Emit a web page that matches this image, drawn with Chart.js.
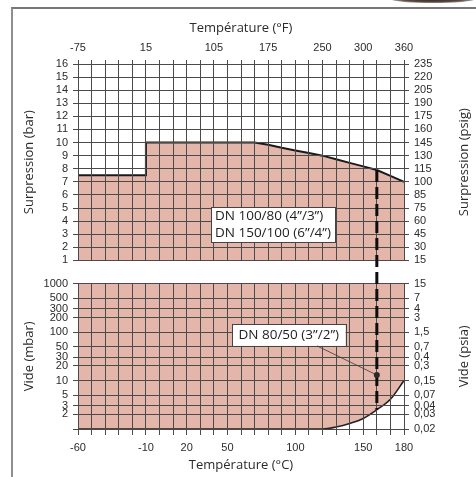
<!DOCTYPE html>
<html lang="fr">
<head>
<meta charset="utf-8">
<title>Surpression / vide selon la température</title>
<script src="https://cdn.jsdelivr.net/npm/chart.js@4.4.1/dist/chart.umd.min.js"></script>
<style>
  html, body { margin: 0; padding: 0; background: #fff; }
  #wrap { position: relative; width: 476px; height: 477px; overflow: hidden; }
  #frame {
    position: absolute; left: 11px; top: 7px; width: 480px; height: 480px;
    border-left: 2px solid #8e8e8e; border-top: 2px solid #777;
  }
  #shade {
    position: absolute; left: 392px; top: -4px; width: 82px; height: 7px; border-radius: 50%;
    background: radial-gradient(ellipse at center, #2f2621 0%, #5b4b42 50%, rgba(255,255,255,0) 100%);
  }
  #pressure { position: absolute; left: 0; top: 0; }
  #vacuum   { position: absolute; left: 0; top: 272px; }
</style>
</head>
<body>
<div id="wrap">
  <div id="frame"></div>
  <div id="shade"></div>
  <canvas id="pressure" width="476" height="272"></canvas>
  <canvas id="vacuum" width="476" height="205"></canvas>
</div>

<script>
/* -------------------------------------------------------
   Data
------------------------------------------------------- */
// pressure limit, upper panel
const TEMP_C       = [-60, -10, -10, 70, 80, 90, 100, 110, 120, 130, 140, 150, 160, 170, 180];
const PRESSURE_BAR = [7.5, 7.5, 10, 10, 9.83, 9.6, 9.4, 9.2, 9.0, 8.72, 8.45, 8.18, 7.9, 7.45, 7.0];

// vacuum limit, lower panel
const VAC_TEMP_C  = [-60, 120, 130, 140, 150, 160, 170, 180];
const VACUUM_MBAR = [1, 1, 1.1, 1.3, 1.65, 2.5, 4.1, 10];

// DN 80/50 limit (dashed line) and its callout point
const LIMIT_TEMP_C = 160;
const LIMIT_BAR    = 7.9;
const LIMIT_MBAR   = 2.5;
const CALLOUT_MBAR = 13;

// axes
const C_LABEL_AT = [-60, -10, 20, 50, 100, 150, 180];
const C_LABELS   = ['-60', '-10', '20', '50', '100', '150', '180'];
const F_LABEL_AT = [-60, -10, 40, 80, 120, 150, 180];
const F_LABELS   = ['-75', '15', '105', '175', '250', '300', '360'];

const BAR_TICKS   = [1, 2, 3, 4, 5, 6, 7, 8, 9, 10, 11, 12, 13, 14, 15, 16];
const BAR_LABELS  = ['1', '2', '3', '4', '5', '6', '7', '8', '9', '10', '11', '12', '13', '14', '15', '16'];
const PSIG_LABELS = ['15', '30', '45', '60', '75', '85', '100', '115', '130', '145', '160', '175', '190', '205', '220', '235'];

const MBAR_TICKS  = [1, 2, 3, 5, 10, 20, 30, 50, 100, 200, 300, 500, 1000];
const MBAR_LABELS = ['', '2', '3', '5', '10', '20', '30', '50', '100', '200', '300', '500', '1000'];
const PSIA_LABELS = ['0,02', '0,03', '0,04', '0,07', '0,15', '0,3', '0,4', '0,7', '1,5', '3', '4', '7', '15'];

const NOTE_LARGE = ['DN 100/80 (4\u201d/3\u201d)', 'DN 150/100 (6\u201d/4\u201d)'];
const NOTE_SMALL = ['DN 80/50 (3\u201d/2\u201d)'];

/* -------------------------------------------------------
   Style
------------------------------------------------------- */
const GRID       = '#4a4a4a';
const FILL       = '#e4b6aa';
const TEXT       = '#2b2b2b';
const TICK_FONT  = { family: "'Liberation Sans', Arial, sans-serif", size: 11 };
const TITLE_FONT = "13px 'Open Sans', sans-serif";
const NOTE_FONT  = "13.5px 'Open Sans', sans-serif";

let dashCarry = 0;   // keeps the dash pattern continuous across the two canvases

function pick(list, labels, v) {
  const i = list.indexOf(v);
  return i < 0 ? '' : labels[i];
}

function tempAxis(position, labelAt, labels) {
  const top = position === 'top';
  return {
    type: 'linear', position, min: -60, max: 180,
    grid: { color: GRID, lineWidth: 1, tickLength: top ? 4 : 6, z: 1 },
    border: { color: GRID, z: 1 },
    ticks: {
      stepSize: 10, autoSkip: false, maxRotation: 0, padding: top ? 5 : 6,
      color: TEXT, font: TICK_FONT,
      callback: v => pick(labelAt, labels, v)
    },
    afterFit: s => { s.height = top ? 64 : 48; }
  };
}

function barAxis(position, labels) {
  const left = position === 'left';
  return {
    type: 'linear', position, min: 1, max: 16,
    grid: { color: GRID, lineWidth: 1, tickLength: 5, z: 1, drawOnChartArea: left },
    border: { color: GRID, z: 1 },
    ticks: {
      stepSize: 1, autoSkip: false, padding: 5, color: TEXT, font: TICK_FONT,
      callback: v => pick(BAR_TICKS, labels, v)
    },
    afterFit: s => { s.width = left ? 78 : 72; }
  };
}

function mbarAxis(position, labels) {
  const left = position === 'left';
  return {
    type: 'logarithmic', position, min: 1, max: 1000,
    grid: { color: GRID, lineWidth: 1, tickLength: 5, z: 1, drawOnChartArea: left },
    border: { color: GRID, z: 1 },
    afterBuildTicks: s => { s.ticks = MBAR_TICKS.map(value => ({ value })); },
    ticks: {
      autoSkip: false, padding: 5, color: TEXT, font: TICK_FONT,
      callback: v => pick(MBAR_TICKS, labels, v)
    },
    afterFit: s => { s.width = left ? 78 : 72; }
  };
}

/* -------------------------------------------------------
   Drawing helpers (titles, notes, limit line)
------------------------------------------------------- */
function vText(ctx, text, x, y) {
  ctx.save();
  ctx.translate(x, y);
  ctx.rotate(-Math.PI / 2);
  ctx.fillText(text, 0, 0);
  ctx.restore();
}

function titles(ctx, ca, top, left, right, topY, bottomY) {
  ctx.save();
  ctx.fillStyle = TEXT;
  ctx.font = TITLE_FONT;
  ctx.textAlign = 'center';
  ctx.textBaseline = 'middle';
  const cx = (ca.left + ca.right) / 2;
  const cy = (ca.top + ca.bottom) / 2;
  if (top) ctx.fillText(top, cx, topY);
  if (bottomY !== undefined) ctx.fillText('Température (°C)', cx, bottomY);
  vText(ctx, left, 29, cy);
  vText(ctx, right, 464, cy);
  ctx.restore();
}

function noteBox(ctx, lines, left, top, padX, lineGap, padY) {
  ctx.save();
  ctx.font = NOTE_FONT;
  const w = Math.max(...lines.map(l => ctx.measureText(l).width)) + padX * 2;
  const h = lines.length * lineGap + padY * 2;
  ctx.fillStyle = '#fff';
  ctx.fillRect(left, top, w, h);
  ctx.strokeStyle = '#444';
  ctx.lineWidth = 1;
  ctx.strokeRect(Math.round(left) + 0.5, Math.round(top) + 0.5, Math.round(w), Math.round(h));
  ctx.fillStyle = '#1e1e1e';
  ctx.textBaseline = 'middle';
  lines.forEach((l, i) => ctx.fillText(l, left + padX, top + padY + lineGap * (i + 0.5)));
  ctx.restore();
  return { left, top, width: w, height: h };
}

function limitLine(ctx, x, y0, y1, offset) {
  ctx.save();
  ctx.strokeStyle = '#0d0d0d';
  ctx.lineWidth = 3;
  ctx.setLineDash([12, 5]);
  ctx.lineDashOffset = offset;
  ctx.beginPath();
  ctx.moveTo(x, y0);
  ctx.lineTo(x, y1);
  ctx.stroke();
  ctx.restore();
}

const pressureDecor = {
  id: 'pressureDecor',
  afterDraw(chart) {
    const { ctx, chartArea: ca, scales: { x, y } } = chart;
    titles(ctx, ca, 'Température (°F)', 'Surpression (bar)', 'Surpression (psig)', 28);

    const lx = x.getPixelForValue(LIMIT_TEMP_C);
    const ly = y.getPixelForValue(LIMIT_BAR);
    limitLine(ctx, lx, ly, chart.height, 0);
    dashCarry = chart.height - ly;

    noteBox(ctx, NOTE_LARGE, ca.left + 133, ca.top + 143, 4, 17.5, 0);
  }
};

const vacuumDecor = {
  id: 'vacuumDecor',
  afterDraw(chart) {
    const { ctx, chartArea: ca, scales: { x, y } } = chart;
    titles(ctx, ca, null, 'Vide (mbar)', 'Vide (psia)', 0, 193);

    const lx = x.getPixelForValue(LIMIT_TEMP_C);
    limitLine(ctx, lx, 0, y.getPixelForValue(LIMIT_MBAR), dashCarry);

    const box = noteBox(ctx, NOTE_SMALL, ca.left + 154, ca.top + 40.7, 6.5, 17, 2.3);

    // callout to the DN 80/50 line
    const px = lx;
    const py = y.getPixelForValue(CALLOUT_MBAR);
    ctx.save();
    ctx.strokeStyle = '#3a3a3a';
    ctx.lineWidth = 0.8;
    ctx.beginPath();
    ctx.moveTo(box.left + 85, box.top + box.height);
    ctx.lineTo(px, py);
    ctx.stroke();
    ctx.fillStyle = '#2a2a2a';
    ctx.beginPath();
    ctx.arc(px, py, 3, 0, Math.PI * 2);
    ctx.fill();
    ctx.restore();
  }
};

/* -------------------------------------------------------
   Charts
------------------------------------------------------- */
function buildPressure() {
  new Chart(document.getElementById('pressure'), {
    type: 'line',
    data: {
      datasets: [{
        data: TEMP_C.map((t, i) => ({ x: t, y: PRESSURE_BAR[i] })),
        borderColor: '#1a1a1a',
        borderWidth: 2,
        backgroundColor: FILL,
        fill: 'start',
        tension: 0,
        pointRadius: 0
      }]
    },
    options: {
      responsive: false,
      animation: false,
      layout: { padding: { left: 0, right: 0, top: 0, bottom: 7 } },
      plugins: { legend: { display: false }, tooltip: { enabled: false } },
      scales: {
        x: tempAxis('top', F_LABEL_AT, F_LABELS),
        y: barAxis('left', BAR_LABELS),
        y2: barAxis('right', PSIG_LABELS)
      }
    },
    plugins: [pressureDecor]
  });
}

function buildVacuum() {
  new Chart(document.getElementById('vacuum'), {
    type: 'line',
    data: {
      datasets: [{
        data: VAC_TEMP_C.map((t, i) => ({ x: t, y: VACUUM_MBAR[i] })),
        borderColor: '#222',
        borderWidth: 1.6,
        backgroundColor: FILL,
        fill: 'end',
        cubicInterpolationMode: 'monotone',
        pointRadius: 0
      }]
    },
    options: {
      responsive: false,
      animation: false,
      layout: { padding: { left: 0, right: 0, top: 8, bottom: 0 } },
      plugins: { legend: { display: false }, tooltip: { enabled: false } },
      scales: {
        x: tempAxis('bottom', C_LABEL_AT, C_LABELS),
        y: mbarAxis('left', MBAR_LABELS),
        y2: mbarAxis('right', PSIA_LABELS)
      }
    },
    plugins: [vacuumDecor]
  });
}

buildPressure();
buildVacuum();
</script>
</body>
</html>
